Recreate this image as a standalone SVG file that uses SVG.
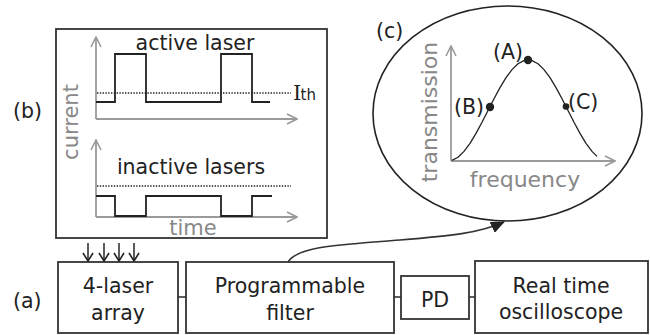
<svg xmlns="http://www.w3.org/2000/svg" width="650" height="335" viewBox="0 0 650 335">
<defs>
<style>
text{font-family:"DejaVu Sans","Liberation Sans",sans-serif;font-size:20.5px;fill:#222}
.g{fill:#888;font-size:21px}
.box{fill:#fff;stroke:#333;stroke-width:1.8}
.ax{fill:none;stroke:#9a9a9a;stroke-width:1.8}
.wave{fill:none;stroke:#222;stroke-width:1.8}
.dot{fill:none;stroke:#222;stroke-width:1.3;stroke-dasharray:1.4 1.4}
.ln{fill:none;stroke:#333;stroke-width:1.6}
</style>
<marker id="ga" viewBox="0 0 12 12" refX="11" refY="6" markerWidth="12" markerHeight="12" markerUnits="userSpaceOnUse" orient="auto">
<path d="M1,1 L11,6 L1,11" fill="none" stroke="#9a9a9a" stroke-width="1.6"/>
</marker>
<marker id="ka" viewBox="0 0 10 12" refX="9" refY="6" markerWidth="10" markerHeight="12" markerUnits="userSpaceOnUse" orient="auto">
<path d="M1,1 L9,6 L1,11" fill="none" stroke="#222" stroke-width="1.6"/>
</marker>
<marker id="fa" viewBox="0 0 14 12" refX="13" refY="6" markerWidth="14" markerHeight="12" markerUnits="userSpaceOnUse" orient="auto">
<path d="M0,0 L14,6 L0,12 Z" fill="#222"/>
</marker>
</defs>

<g id="panel-b">
<rect class="box" x="56" y="29" width="271" height="209"/>
<text x="13" y="118">(b)</text>
<path class="ax" d="M96,119 V37" marker-end="url(#ga)"/>
<path class="ax" d="M96,119 H297" marker-end="url(#ga)"/>
<path class="dot" d="M97,93 H291"/>
<path class="wave" d="M96,102 H115 V54 H146 V102 H221 V54 H252 V102 H270"/>
<text x="195" y="50" text-anchor="middle">active laser</text>
<text x="293" y="99.5" style="font-family:'DejaVu Serif','Liberation Serif',serif;font-size:21px">I</text>
<text x="300.5" y="100" style="font-size:15px">th</text>
<path class="ax" d="M96,217 V140" marker-end="url(#ga)"/>
<path class="ax" d="M96,217 H297" marker-end="url(#ga)"/>
<path class="dot" d="M97,186 H291"/>
<path class="wave" d="M96,196 H115 V216 H146 V196 H221 V216 H252 V196 H272"/>
<text x="191" y="174" text-anchor="middle">inactive lasers</text>
<text class="g" x="193" y="235" text-anchor="middle">time</text>
<text class="g" transform="translate(78,122) rotate(-90)" text-anchor="middle">current</text>
</g>

<g id="panel-c">
<ellipse cx="507.5" cy="113.5" rx="134.5" ry="107.5" fill="none" stroke="#222" stroke-width="1.6"/>
<text x="376" y="38">(c)</text>
<path class="ax" d="M451,161 V46" marker-end="url(#ga)"/>
<path class="ax" d="M451,161 H615" marker-end="url(#ga)"/>
<polyline fill="none" stroke="#222" stroke-width="1.3" stroke-linejoin="round" points="452,160.4 458,157.2 464,151.4 470,143.3 476,133.4 482,122.3 488,110.5 494,98.7 500,87.6 506,77.7 512,69.6 518,63.8 524,60.6 528,60 532,60.6 538,63.8 544,69.6 550,77.7 556,87.6 562,98.7 568,110.5 574,122.3 580,133.4 586,143.3 592,151.4 597,156.4"/>
<circle cx="528" cy="60" r="4.2" fill="#222"/>
<circle cx="490" cy="107" r="4.2" fill="#222"/>
<circle cx="566" cy="106.5" r="3.3" fill="#222"/>
<text x="523" y="59" text-anchor="end">(A)</text>
<text x="454" y="114">(B)</text>
<text x="568" y="109">(C)</text>
<text class="g" x="525" y="187" text-anchor="middle" style="font-size:22px">frequency</text>
<text class="g" transform="translate(437,112) rotate(-90)" text-anchor="middle" style="font-size:22px">transmission</text>
</g>

<g id="laser-array">
<rect class="box" x="58" y="262" width="120" height="71"/>
<text x="118" y="293" text-anchor="middle">4-laser</text>
<text x="118" y="320" text-anchor="middle">array</text>
</g>
<g id="filter">
<rect class="box" x="186" y="262" width="208" height="71"/>
<text x="290" y="293" text-anchor="middle">Programmable</text>
<text x="290" y="320" text-anchor="middle">filter</text>
</g>
<g id="pd">
<rect class="box" x="401" y="276" width="68" height="43"/>
<text x="435" y="307" text-anchor="middle">PD</text>
</g>
<g id="scope">
<rect class="box" x="475" y="261" width="173" height="72"/>
<text x="561" y="293" text-anchor="middle">Real time</text>
<text x="561" y="319" text-anchor="middle">oscilloscope</text>
</g>
<text x="13" y="308">(a)</text>

<g id="connectors">
<path class="ln" d="M178,297 H186"/>
<path class="ln" d="M394,297 H401"/>
<path class="ln" d="M469,297 H475"/>
<path class="ln" d="M88,243 V261" marker-end="url(#ka)"/>
<path class="ln" d="M104,243 V261" marker-end="url(#ka)"/>
<path class="ln" d="M119,243 V261" marker-end="url(#ka)"/>
<path class="ln" d="M134,243 V261" marker-end="url(#ka)"/>
<path class="ln" d="M288,262 C298,246 340,245 400,240 C450,236 480,233 504,222" marker-end="url(#fa)"/>
</g>
</svg>
